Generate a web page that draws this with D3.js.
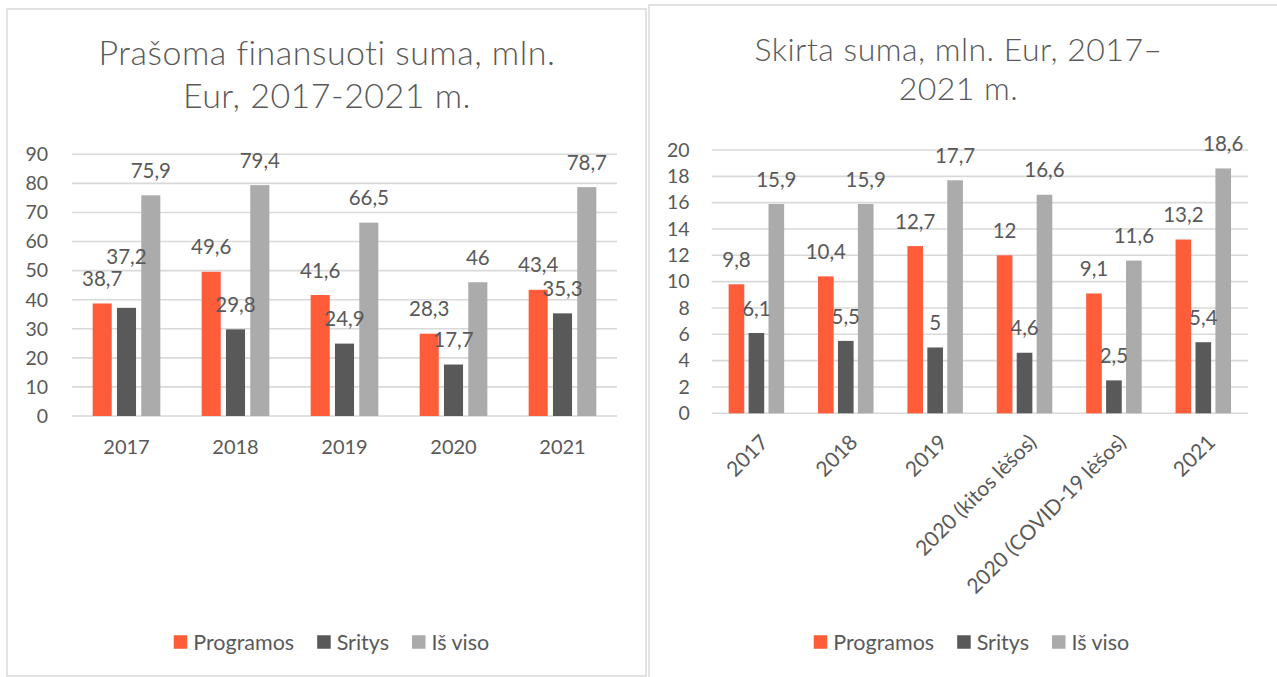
<!DOCTYPE html>
<html><head><meta charset="utf-8">
<script src="https://cdn.jsdelivr.net/npm/d3@7"></script>
<style>body{margin:0;background:#fff;} svg{display:block}</style>
</head><body>
<svg id="c" width="1277" height="677"></svg>
<script>
// ---------- DATA ----------
const seriesNames = ["Programos", "Sritys", "Iš viso"];
const seriesColors = ["#FF5C39", "#595959", "#ABABAB"];

const leftTitle = ["Prašoma finansuoti suma, mln.", "Eur, 2017-2021 m."];
const leftCategories = ["2017", "2018", "2019", "2020", "2021"];
const leftProgramos = [38.7, 49.6, 41.6, 28.3, 43.4];
const leftSritys = [37.2, 29.8, 24.9, 17.7, 35.3];
const leftIsViso = [75.9, 79.4, 66.5, 46, 78.7];
const leftTicks = [0, 10, 20, 30, 40, 50, 60, 70, 80, 90];

const rightTitle = ["Skirta suma, mln. Eur, 2017–", "2021 m."];
const rightCategories = ["2017", "2018", "2019", "2020 (kitos lėšos)", "2020 (COVID-19 lėšos)", "2021"];
const rightProgramos = [9.8, 10.4, 12.7, 12, 9.1, 13.2];
const rightSritys = [6.1, 5.5, 5, 4.6, 2.5, 5.4];
const rightIsViso = [15.9, 15.9, 17.7, 16.6, 11.6, 18.6];
const rightTicks = [0, 2, 4, 6, 8, 10, 12, 14, 16, 18, 20];

// ---------- STYLE ----------
const FONT = "Lato, 'Open Sans', sans-serif";
const TEXT = "#595959";
const GRID = "#D9D9D9";
const fmt = v => String(v).replace(".", ",");

const svg = d3.select("#c");

function drawChart(cfg) {
  const g = svg.append("g");
  g.append("rect")
    .attr("x", cfg.panel[0]).attr("y", cfg.panel[1])
    .attr("width", cfg.panel[2]).attr("height", cfg.panel[3])
    .attr("fill", "#fff").attr("stroke", GRID).attr("stroke-width", 1.5);

  cfg.title.forEach((t, i) => {
    g.append("text")
      .attr("x", cfg.titleX).attr("y", cfg.titleY + i * cfg.titleLH)
      .attr("text-anchor", "middle")
      .attr("font-family", FONT).attr("font-weight", 300)
      .attr("font-size", cfg.titleSize).attr("fill", TEXT)
      .attr("letter-spacing", cfg.titleLS)
      .text(t);
  });

  const x = d3.scaleBand().domain(cfg.categories).range([cfg.x0, cfg.x1]);
  const bw = x.bandwidth();
  const sub = d3.scaleBand().domain(seriesNames)
    .range([-0.3105 * bw, 0.3105 * bw]).paddingInner(0.215);
  const y = d3.scaleLinear().domain([0, d3.max(cfg.ticks)]).range([cfg.y0, cfg.y1]);

  // gridlines
  g.append("g").selectAll("line").data(cfg.ticks).join("line")
    .attr("x1", cfg.x0).attr("x2", cfg.x1)
    .attr("y1", d => y(d)).attr("y2", d => y(d))
    .attr("stroke", GRID).attr("stroke-width", 1.6);

  // y tick labels
  g.append("g").selectAll("text").data(cfg.ticks).join("text")
    .attr("x", cfg.x0 - cfg.tickGap).attr("y", d => y(d))
    .attr("dy", "0.35em").attr("text-anchor", "end")
    .attr("font-family", FONT).attr("font-size", cfg.tickSize).attr("fill", TEXT)
    .text(d => d);

  const rows = cfg.categories.map((c, i) => ({
    cat: c,
    vals: cfg.series.map((s, j) => ({ name: seriesNames[j], v: s[i], j }))
  }));

  const groups = g.append("g").selectAll("g").data(rows).join("g")
    .attr("transform", d => `translate(${x(d.cat) + bw / 2},0)`);

  groups.selectAll("rect").data(d => d.vals).join("rect")
    .attr("x", d => sub(d.name)).attr("width", sub.bandwidth())
    .attr("y", d => y(d.v)).attr("height", d => y(0) - y(d.v))
    .attr("fill", d => seriesColors[d.j]);

  // data labels with simple overlap avoidance
  groups.each(function (row) {
    const placed = [];
    row.vals.forEach(d => {
      const cx = sub(d.name) + sub.bandwidth() / 2;
      let cy = y(d.v) - cfg.labelOff;
      placed.forEach(p => {
        if (Math.abs(p.cx - cx) < 40 && Math.abs(p.cy - cy) < 18) cy = p.cy - 22;
      });
      placed.push({ cx, cy });
      d3.select(this).append("text")
        .attr("x", cx).attr("y", cy).attr("dy", "0.35em")
        .attr("text-anchor", "middle")
        .attr("font-family", FONT).attr("font-size", cfg.labelSize).attr("fill", TEXT)
        .text(fmt(d.v));
    });
  });

  // x labels
  const xl = g.append("g").selectAll("text").data(cfg.categories).join("text")
    .attr("font-family", FONT).attr("font-size", cfg.xSize).attr("fill", TEXT)
    .text(d => d);
  if (cfg.rotate) {
    xl.attr("text-anchor", "end").attr("dy", "0.35em")
      .attr("transform", d => `translate(${x(d) + bw / 2 + cfg.rotDx},${cfg.y0 + cfg.rotDy}) rotate(-45)`);
  } else {
    xl.attr("text-anchor", "middle").attr("dy", "0.35em")
      .attr("x", d => x(d) + bw / 2).attr("y", cfg.y0 + cfg.xOff);
  }

  // legend
  const lg = g.append("g");
  let cur = 0;
  seriesNames.forEach((n, j) => {
    const it = lg.append("g");
    it.append("rect").attr("x", 0).attr("y", -6.75).attr("width", 13.5).attr("height", 13.5)
      .attr("fill", seriesColors[j]);
    const t = it.append("text").attr("x", 19.5).attr("dy", "0.35em")
      .attr("font-family", FONT).attr("font-size", cfg.legendSize).attr("fill", TEXT).text(n);
    const w = 19.5 + t.node().getComputedTextLength();
    it.attr("transform", `translate(${cur},0)`);
    cur += w + 23;
  });
  const total = cur - 23;
  lg.attr("transform", `translate(${cfg.legendCX - total / 2},${cfg.legendY})`);
}

drawChart({
  panel: [7, 9, 639, 667],
  title: leftTitle, titleX: 327, titleY: 65, titleLH: 43, titleSize: 34, titleLS: 0.5,
  categories: leftCategories,
  series: [leftProgramos, leftSritys, leftIsViso],
  ticks: leftTicks,
  x0: 72, x1: 617, y0: 416, y1: 154.3,
  tickGap: 24, tickSize: 19.5, labelSize: 20.5, labelOff: 24.5,
  xSize: 20, xOff: 31, rotate: false,
  legendSize: 21.5, legendCX: 331.5, legendY: 642
});

drawChart({
  panel: [649, 5, 700, 700],
  title: rightTitle, titleX: 958.5, titleY: 61, titleLH: 39, titleSize: 32, titleLS: 0.5,
  categories: rightCategories,
  series: [rightProgramos, rightSritys, rightIsViso],
  ticks: rightTicks,
  x0: 711.7, x1: 1248, y0: 413.3, y1: 150,
  tickGap: 22, tickSize: 19.5, labelSize: 20.5, labelOff: 24.5,
  xSize: 21, rotate: true, rotDx: 8, rotDy: 25,
  legendSize: 21.5, legendCX: 971.5, legendY: 642
});
</script>
</body></html>
